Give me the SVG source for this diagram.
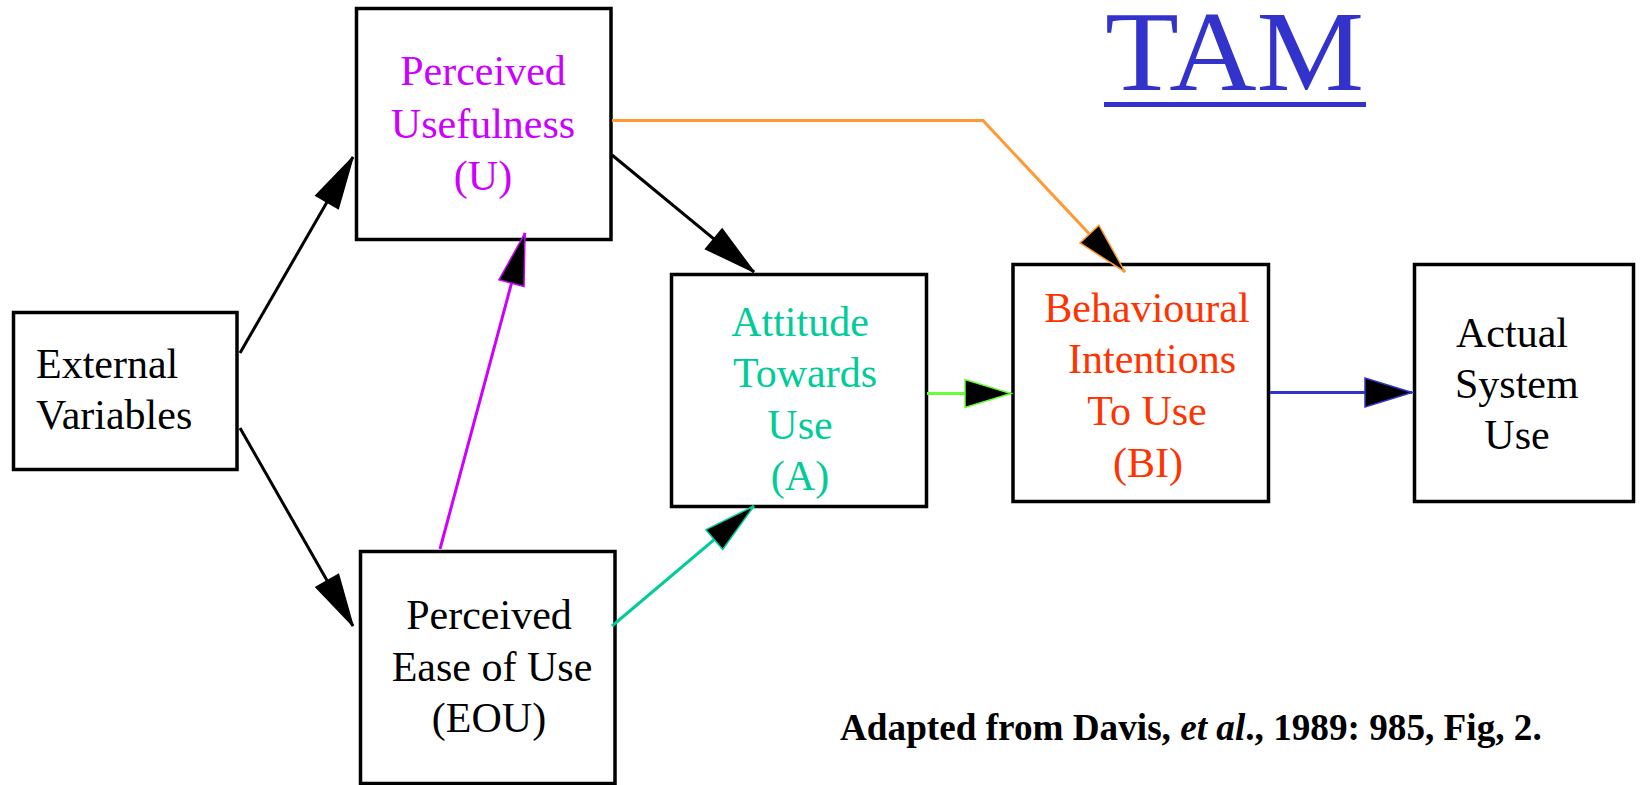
<svg xmlns="http://www.w3.org/2000/svg" width="1641" height="785" viewBox="0 0 1641 785">
<style>
.box{fill:#fff;stroke:#000;stroke-width:3.5}
.t{font-family:"Liberation Serif","Times New Roman",serif;font-size:42px}
.c{text-anchor:middle}
.ln{fill:none;stroke-width:3}
</style>
<defs>
<marker id="mk" markerUnits="userSpaceOnUse" viewBox="-56 -16 60 32" refX="0" refY="0" markerWidth="60" markerHeight="32" orient="auto">
<path d="M0,0 L-52,-13 L-52,13 Z" fill="#000" stroke="#000" stroke-width="1.5"/>
</marker>
<marker id="mo" markerUnits="userSpaceOnUse" viewBox="-56 -16 60 32" refX="0" refY="0" markerWidth="60" markerHeight="32" orient="auto">
<path d="M0,0 L-52,-13 L-52,13 Z" fill="#000" stroke="#ff9933" stroke-width="1.5"/>
</marker>
<marker id="mp" markerUnits="userSpaceOnUse" viewBox="-56 -16 60 32" refX="0" refY="0" markerWidth="60" markerHeight="32" orient="auto">
<path d="M0,0 L-52,-13 L-52,13 Z" fill="#000" stroke="#cc00ff" stroke-width="1.5"/>
</marker>
<marker id="mt" markerUnits="userSpaceOnUse" viewBox="-56 -16 60 32" refX="0" refY="0" markerWidth="60" markerHeight="32" orient="auto">
<path d="M0,0 L-52,-13 L-52,13 Z" fill="#000" stroke="#00cc99" stroke-width="1.5"/>
</marker>
<marker id="mg" markerUnits="userSpaceOnUse" viewBox="-52 -17 56 34" refX="0" refY="0" markerWidth="56" markerHeight="34" orient="auto">
<path d="M0,0 L-46,-14 L-46,14 Z" fill="#000" stroke="#66ff33" stroke-width="1.5"/>
</marker>
<marker id="mb" markerUnits="userSpaceOnUse" viewBox="-52 -17 56 34" refX="0" refY="0" markerWidth="56" markerHeight="34" orient="auto">
<path d="M0,0 L-47,-14.5 L-47,14.5 Z" fill="#000" stroke="#3333cc" stroke-width="1.5"/>
</marker>
</defs>
<rect width="1641" height="785" fill="#fff"/>

<g id="ext">
<rect class="box" x="13.5" y="312.5" width="223.5" height="157"/>
<text class="t" x="36" y="378">External</text>
<text class="t" x="36" y="429">Variables</text>
</g>

<g id="pu">
<rect class="box" x="356.5" y="8.5" width="254.5" height="231"/>
<g class="t c" fill="#cc00ff">
<text x="483" y="85">Perceived</text>
<text x="483" y="137.5">Usefulness</text>
<text x="483" y="190">(U)</text>
</g>
</g>

<g id="eou">
<rect class="box" x="360.5" y="551.5" width="254.5" height="232"/>
<g class="t c" fill="#000">
<text x="489" y="629">Perceived</text>
<text x="492" y="681">Ease of Use</text>
<text x="489" y="732">(EOU)</text>
</g>
</g>

<g id="att">
<rect class="box" x="671.5" y="274.5" width="255" height="232"/>
<g class="t c" fill="#00cc99">
<text x="800" y="336">Attitude</text>
<text x="805" y="387">Towards</text>
<text x="800" y="438.5">Use</text>
<text x="800" y="490">(A)</text>
</g>
</g>

<g id="bi">
<rect class="box" x="1013" y="264.5" width="255.5" height="237"/>
<g class="t c" fill="#ff3300">
<text x="1147" y="321.5">Behavioural</text>
<text x="1152" y="373">Intentions</text>
<text x="1147" y="425">To Use</text>
<text x="1148" y="476.5">(BI)</text>
</g>
</g>

<g id="asu">
<rect class="box" x="1414.5" y="264.5" width="219" height="237"/>
<text class="t" x="1456" y="347">Actual</text>
<text class="t" x="1455" y="398">System</text>
<text class="t c" x="1517" y="449">Use</text>
</g>

<g id="connectors">
<line class="ln" stroke="#000" x1="240" y1="353" x2="353" y2="157" marker-end="url(#mk)"/>
<line class="ln" stroke="#000" x1="240" y1="428" x2="353" y2="626" marker-end="url(#mk)"/>
<line class="ln" stroke="#000" x1="612" y1="155" x2="754" y2="272" marker-end="url(#mk)"/>
<polyline class="ln" stroke="#ff9933" points="612,120.5 983,120.5 1125,272" marker-end="url(#mo)"/>
<line class="ln" stroke="#cc00ff" x1="440" y1="549" x2="525" y2="233" marker-end="url(#mp)"/>
<line class="ln" stroke="#00cc99" x1="612" y1="626" x2="754" y2="506" marker-end="url(#mt)"/>
<line class="ln" stroke="#66ff33" stroke-width="3.5" x1="927" y1="393.5" x2="1011" y2="393.5" marker-end="url(#mg)"/>
<line class="ln" stroke="#3333cc" x1="1270" y1="392.5" x2="1412" y2="392.5" marker-end="url(#mb)"/>
</g>

<g id="title">
<text x="1105" y="90" font-family="'Liberation Serif','Times New Roman',serif" font-size="115" fill="#3333cc" textLength="259" lengthAdjust="spacingAndGlyphs">TAM</text>
<rect x="1104" y="102" width="262" height="5" fill="#3333cc"/>
</g>

<g id="citation">
<text x="840" y="740" font-family="'Liberation Serif','Times New Roman',serif" font-size="37.2" font-weight="bold" fill="#000">Adapted from Davis, <tspan font-style="italic">et al</tspan>., 1989: 985, Fig, 2.</text>
</g>
</svg>
